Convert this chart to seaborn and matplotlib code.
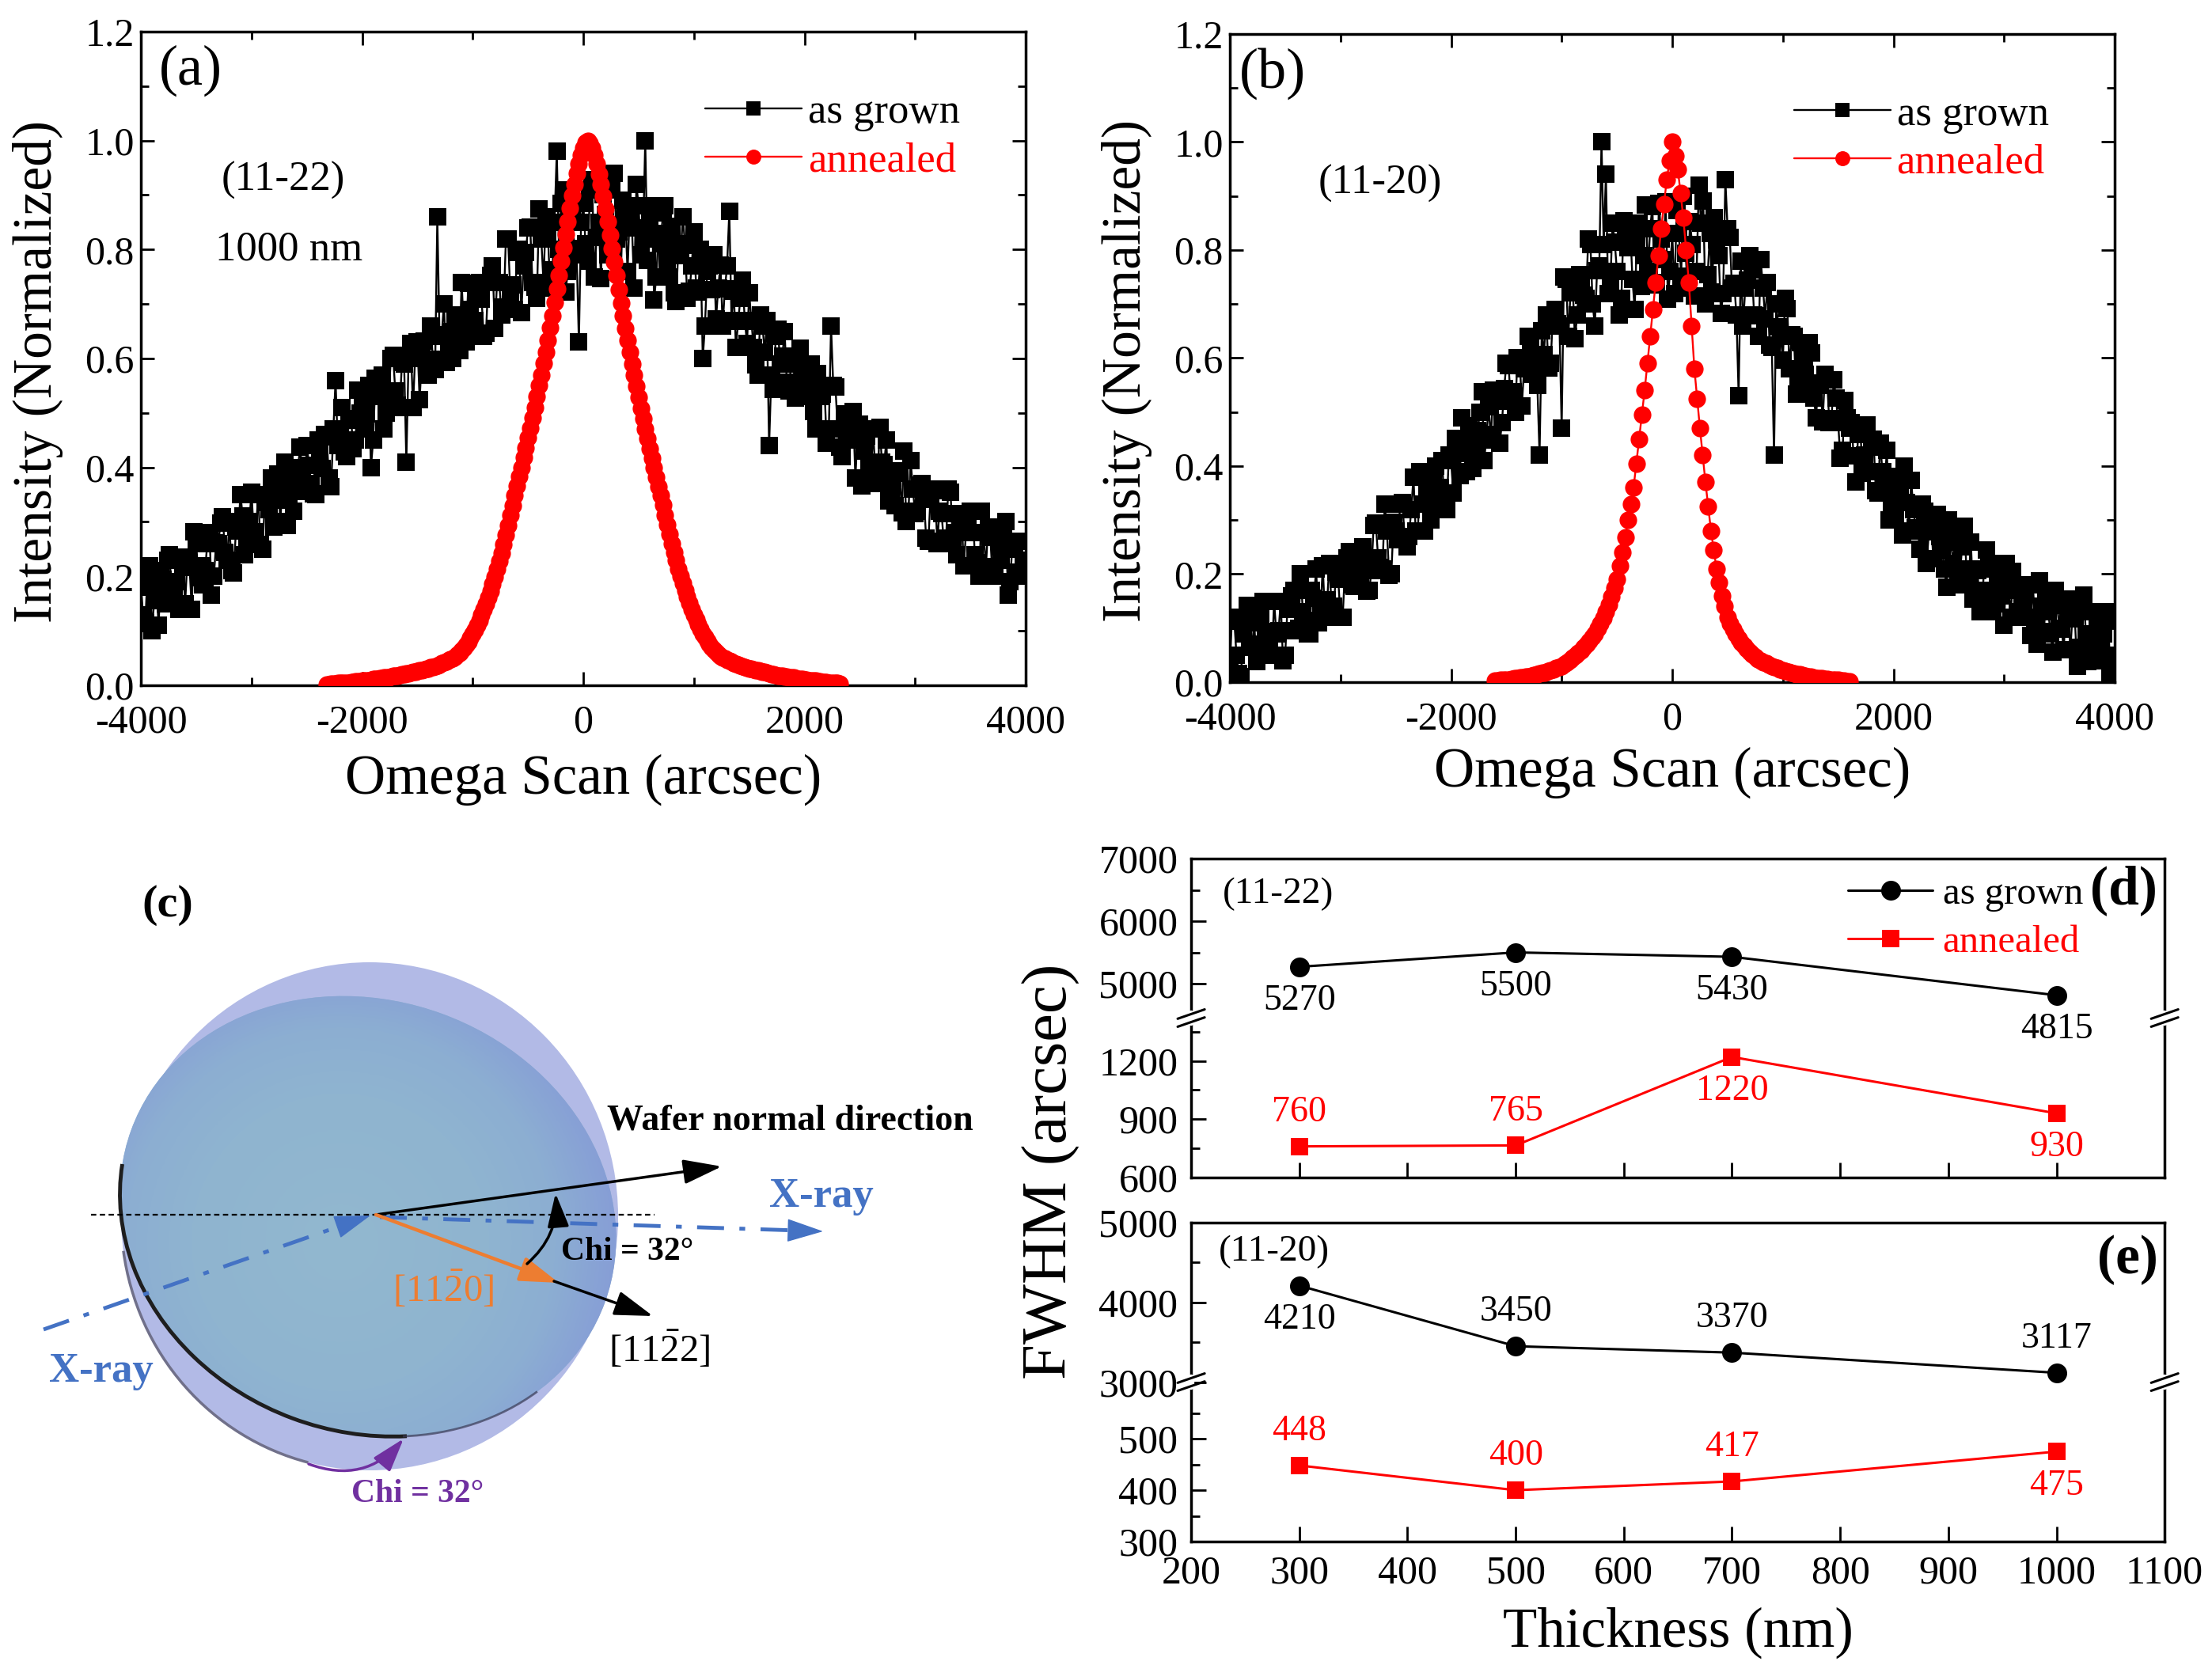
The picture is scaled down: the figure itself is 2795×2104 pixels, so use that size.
import numpy as np
import matplotlib
matplotlib.use("Agg")
import matplotlib.pyplot as plt
import seaborn as sns
from matplotlib.patches import Ellipse, Arc, FancyArrowPatch
from matplotlib.lines import Line2D
from matplotlib.ticker import MultipleLocator, FixedLocator, FormatStrFormatter
from matplotlib.colors import LinearSegmentedColormap

# ---------------------------------------------------------------- data
# (a) (11-22) 1000 nm omega scans, normalized intensity
scan_a_start, scan_a_end = -4000, 4000
grown_a = [  # points at -4000, -3960, ... 4000
    .18, .115, .22, .155, .11, .195, .23, .155, .19, .235,
    .15, .216, .282, .198, .184, .26, .166, .262, .298, .244,
    .30, .207, .284, .311, .258, .355, .282, .259, .336, .323,
    .29, .388, .366, .294, .392, .36, .438, .356, .404, .352,
    .45, .398, .456, .364, .56, .46, .428, .486, .434, .542,
    .53, .498, .40, .564, .542, .47, .528, .606, .514, .592,
    .41, .628, .606, .524, .632, .57, .598, .86, .644, .592,
    .65, .677, .614, .651, .738, .655, .722, .709, .646, .753,
    .655, .74, .695, .819, .735, .794, .684, .795, .841, .731,
    .874, .739, .828, .763, .98, .885, .722, .867, .802, .63,
    .885, .779, .928, .822, .746, .865, .909, .94, .832, .891,
    .76, .84, .92, .79, 1.0, .852, .708, .83, .868, .78,
    .842, .705, .789, .808, .723, .833, .722, .60, .76, .727,
    .672, .772, .728, .87, .724, .668, .744, .628, .668, .588,
    .68, .611, .44, .543, .654, .605, .556, .597, .528, .619,
    .59, .541, .502, .573, .534, .445, .66, .547, .438, .499,
    .45, .502, .464, .366, .458, .38, .392, .474, .406, .338,
    .38, .393, .316, .30, .412, .315, .368, .341, .264, .357,
    .26, .315, .27, .355, .28, .315, .22, .295, .32, .225,
    .32, .216, .272, .218, .254, .29, .166, .262, .208, .264,
    .22]
grown_a_mid = [  # points at -3980, -3940, ... 3980
    .13, .21, .10, .18, .21, .15, .24, .18, .14, .22,
    .23, .14, .26, .22, .21, .28, .20, .26, .31, .23,
    .21, .29, .35, .24, .30, .28, .35, .25, .35, .38,
    .34, .30, .41, .34, .32, .40, .38, .44, .37, .35,
    .43, .46, .38, .47, .44, .51, .42, .49, .45, .50,
    .47, .55, .45, .53, .57, .50, .60, .54, .51, .59,
    .60, .51, .63, .60, .59, .66, .58, .64, .70, .62,
    .60, .68, .74, .63, .69, .67, .74, .64, .74, .77,
    .74, .68, .82, .72, .69, .80, .77, .84, .74, .71,
    .82, .86, .73, .85, .80, .91, .76, .86, .79, .85,
    .81, .91, .75, .85, .90, .79, .92, .82, .76, .86,
    .87, .73, .88, .82, .78, .88, .75, .81, .88, .75,
    .72, .81, .86, .71, .77, .73, .80, .66, .77, .79,
    .73, .66, .77, .67, .62, .71, .67, .72, .62, .57,
    .66, .67, .57, .64, .59, .65, .54, .59, .53, .56,
    .53, .59, .47, .53, .55, .47, .55, .47, .42, .48,
    .49, .38, .48, .43, .40, .47, .37, .41, .45, .35,
    .33, .39, .43, .32, .36, .32, .37, .27, .35, .36,
    .32, .26, .36, .27, .24, .31, .28, .32, .24, .20,
    .28, .29, .20, .28, .23, .30, .19, .25, .20, .23]
ann_a_start, ann_a_end = -2320, 2320
ann_a = [
    .002, .002, .003, .003, .003, .004, .004, .004, .005, .005,
    .005, .006, .006, .007, .007, .007, .008, .008, .009, .009,
    .010, .011, .011, .012, .013, .013, .014, .015, .015, .016,
    .017, .017, .018, .019, .020, .021, .022, .022, .023, .024,
    .025, .026, .027, .028, .029, .030, .031, .033, .034, .035,
    .037, .038, .040, .042, .044, .046, .048, .050, .053, .056,
    .060, .064, .069, .074, .080, .087, .094, .102, .111, .119,
    .129, .139, .150, .161, .173, .186, .199, .213, .228, .243,
    .259, .276, .294, .312, .330, .349, .366, .383, .400, .418,
    .436, .454, .472, .491, .510, .530, .550, .570, .591, .612,
    .634, .656, .679, .703, .728, .753, .778, .803, .828, .852,
    .876, .899, .920, .940, .958, .974, .987, .996, 1.000,
    .995, .986, .973, .957, .939, .919, .898, .875, .851, .827,
    .802, .777, .752, .727, .702, .678, .655, .633, .611, .590,
    .569, .549, .529, .509, .490, .471, .453, .435, .417, .399,
    .382, .365, .348, .331, .313, .295, .277, .260, .244, .229,
    .214, .200, .187, .174, .162, .151, .140, .130, .120, .112,
    .103, .095, .088, .081, .075, .070, .065, .061, .057, .054,
    .051, .049, .047, .045, .043, .041, .039, .038, .036, .035,
    .034, .032, .031, .030, .029, .028, .027, .026, .025, .024,
    .023, .022, .021, .020, .019, .018, .018, .017, .016, .016,
    .015, .014, .014, .013, .012, .012, .011, .010, .010, .009,
    .009, .008, .008, .007, .007, .006, .006, .006, .005, .005,
    .005, .004, .004, .003]

# (b) (11-20) omega scans
scan_b_start, scan_b_end = -4000, 4000
grown_b = [  # points at -4000, -3960, ... 4000
    .04, .113, .016, .089, .142, .065, .038, .121, .094, .057,
    .15, .095, .04, .135, .16, .095, .20, .115, .09, .155,
    .11, .216, .152, .138, .204, .12, .206, .242, .178, .204,
    .25, .168, .206, .294, .212, .33, .198, .296, .264, .332,
    .25, .32, .28, .39, .28, .33, .38, .34, .41, .32,
    .41, .451, .382, .423, .474, .395, .466, .537, .458, .449,
    .53, .442, .544, .586, .538, .60, .512, .594, .626, .578,
    .42, .607, .582, .677, .664, .47, .746, .721, .636, .755,
    .716, .82, .70, .762, 1.0, .94, .738, .814, .68, .854,
    .805, .746, .822, .733, .884, .84, .736, .887, .783, .709,
    .83, .873, .751, .794, .852, .715, .92, .891, .754, .722,
    .819, .682, .93, .824, .739, .53, .66, .744, .763, .678,
    .782, .673, .624, .42, .658, .597, .692, .643, .534, .629,
    .57, .628, .526, .554, .482, .56, .488, .526, .414, .522,
    .47, .419, .458, .387, .476, .435, .354, .443, .362, .301,
    .32, .381, .272, .333, .374, .285, .246, .317, .278, .229,
    .31, .243, .176, .259, .272, .195, .288, .191, .154, .207,
    .15, .245, .17, .145, .20, .105, .18, .205, .13, .145,
    .18, .086, .112, .188, .094, .13, .056, .142, .098, .154,
    .06, .117, .064, .161, .038, .075, .112, .059, .116, .013,
    .05]
grown_b_mid = [  # points at -3980, -3940, ... 3980
    .12, .05, .01, .12, .07, .11, .05, .15, .07, .05,
    .09, .15, .05, .14, .17, .10, .13, .09, .17, .21,
    .13, .12, .22, .14, .19, .12, .23, .18, .23, .20,
    .23, .17, .29, .23, .21, .28, .20, .28, .33, .27,
    .27, .38, .28, .33, .36, .30, .40, .36, .32, .42,
    .35, .43, .49, .39, .45, .43, .50, .41, .51, .54,
    .52, .48, .59, .52, .50, .60, .58, .64, .57, .55,
    .65, .68, .59, .69, .66, .75, .64, .73, .68, .74,
    .71, .81, .66, .77, .81, .72, .85, .76, .71, .82,
    .84, .69, .85, .79, .76, .88, .74, .82, .89, .76,
    .72, .83, .90, .73, .81, .76, .85, .70, .83, .86,
    .79, .72, .84, .73, .68, .78, .73, .79, .68, .64,
    .73, .74, .62, .70, .64, .71, .58, .64, .56, .60,
    .55, .61, .49, .55, .57, .48, .56, .48, .43, .49,
    .48, .37, .47, .42, .39, .45, .35, .39, .43, .33,
    .30, .36, .40, .28, .32, .28, .33, .22, .30, .31,
    .27, .21, .30, .22, .18, .25, .21, .26, .17, .13,
    .21, .22, .13, .20, .16, .22, .12, .17, .12, .15,
    .12, .18, .07, .14, .16, .09, .17, .10, .06, .12,
    .13, .03, .13, .09, .07, .13, .04, .09, .13, .04]
ann_b_start, ann_b_end = -1600, 1600
ann_b = [
    .003, .003, .004, .004, .005, .005, .006, .007, .008, .009,
    .009, .010, .011, .012, .013, .014, .016, .017, .018, .020,
    .022, .024, .026, .028, .030, .033, .037, .041, .045, .050,
    .054, .059, .065, .070, .076, .083, .090, .099, .108, .118,
    .130, .143, .158, .174, .190, .215, .240, .268, .300, .330,
    .360, .405, .450, .495, .540, .590, .640, .690, .740, .790,
    .840, .885, .930, .965,
    1.000,
    .975, .950, .905, .860, .800, .740, .660, .580, .525, .470,
    .420, .370, .325, .280, .245, .210, .185, .160, .140, .120,
    .108, .098, .089, .080, .073, .067, .061, .055, .051, .047,
    .043, .040, .037, .035, .032, .030, .028, .026, .024, .022,
    .021, .019, .018, .016, .015, .014, .013, .012, .011, .010,
    .009, .008, .008, .007, .006, .006, .005, .005, .004, .004,
    .003, .003, .002, .002]

# (d)/(e) FWHM vs thickness
thickness = [300, 500, 700, 1000]
thickness_ticks = [200, 300, 400, 500, 600, 700, 800, 900, 1000, 1100]
fwhm_1122_grown = [5270, 5500, 5430, 4815]
fwhm_1122_ann = [760, 765, 1220, 930]
fwhm_1120_grown = [4210, 3450, 3370, 3117]
fwhm_1120_ann = [448, 400, 417, 475]
side_1122_grown = [-1, -1, -1, -1]      # value label below (-1) / above (+1)
side_1122_ann = [1, 1, -1, -1]
side_1120_grown = [-1, 1, 1, 1]
side_1120_ann = [1, 1, 1, -1]

# ---------------------------------------------------------------- style
sns.set_theme(style="ticks")
plt.rcParams["font.family"] = ["Liberation Serif", "DejaVu Serif"]
plt.rcParams["mathtext.fontset"] = "custom"
plt.rcParams["mathtext.rm"] = "Liberation Serif"
plt.rcParams["mathtext.it"] = "Liberation Serif:italic"
plt.rcParams["mathtext.bf"] = "Liberation Serif:bold"
plt.rcParams["axes.unicode_minus"] = False
for k in ["text.color", "axes.labelcolor", "xtick.color", "ytick.color", "axes.edgecolor"]:
    plt.rcParams[k] = "black"

fig = plt.figure(figsize=(27.95, 21.04), dpi=100)
fig.patch.set_facecolor("white")

SP_LW = 2.5


def style_spines(ax):
    for s in ax.spines.values():
        s.set_linewidth(SP_LW)
        s.set_color("black")


def interleave(first, second):
    out = np.empty(len(first) + len(second))
    out[0::2] = first
    out[1::2] = second
    return out


# ---------------------------------------------------------------- (a),(b)
def scan_panel(ax, xg, yg, xa, ya):
    sns.lineplot(x=xg, y=yg, ax=ax, color="black", marker="s", markersize=15.5,
                 markeredgewidth=0, linewidth=1.7, label="as grown", legend=False,
                 sort=False, estimator=None, zorder=2)
    sns.lineplot(x=xa, y=ya, ax=ax, color="red", marker="o", markersize=16,
                 markeredgewidth=0, linewidth=1.7, label="annealed", legend=False,
                 sort=False, estimator=None, zorder=3)
    ax.set_xlim(-4000, 4000)
    ax.set_ylim(0, 1.2)
    ax.xaxis.set_major_locator(MultipleLocator(2000))
    ax.xaxis.set_minor_locator(MultipleLocator(1000))
    ax.yaxis.set_major_locator(MultipleLocator(0.2))
    ax.yaxis.set_minor_locator(MultipleLocator(0.1))
    ax.yaxis.set_major_formatter(FormatStrFormatter("%.1f"))
    ax.tick_params(which="both", direction="in", top=True, right=True, width=2)
    ax.tick_params(which="major", length=12, labelsize=36)
    ax.tick_params(which="minor", length=7)
    ax.tick_params(axis="x", pad=17)
    ax.tick_params(axis="y", pad=6)
    style_spines(ax)
    ax.set_xlabel("Omega Scan (arcsec)", fontsize=51)
    ax.set_ylabel("Intensity (Normalized)", fontsize=50)
    ax.yaxis.set_label_coords(-0.088, 0.48)
    ax.legend(loc="upper left", bbox_to_anchor=(0.638, 0.905), frameon=False,
              fontsize=38, handlelength=2.3, handletextpad=0.15, labelspacing=0.25,
              borderpad=0, borderaxespad=0, labelcolor="linecolor", markerscale=0.85)


ya = interleave(grown_a, grown_a_mid)
ax_a = fig.add_axes([0.0637, 0.5884, 0.4, 0.3926])
scan_panel(ax_a, np.linspace(scan_a_start, scan_a_end, len(ya)), ya,
           np.linspace(ann_a_start, ann_a_end, len(ann_a)), ann_a)
ax_a.xaxis.set_label_coords(0.5, -0.105)
ax_a.text(0.056, 0.94, "(a)", transform=ax_a.transAxes, ha="center", va="center", fontsize=52)
ax_a.text(0.161, 0.772, "(11-22)", transform=ax_a.transAxes, ha="center", va="center", fontsize=38)
ax_a.text(0.167, 0.666, "1000 nm", transform=ax_a.transAxes, ha="center", va="center", fontsize=38)

yb = interleave(grown_b, grown_b_mid)
ax_b = fig.add_axes([0.556, 0.5903, 0.4, 0.3893])
scan_panel(ax_b, np.linspace(scan_b_start, scan_b_end, len(yb)), yb,
           np.linspace(ann_b_start, ann_b_end, len(ann_b)), ann_b)
ax_b.xaxis.set_label_coords(0.5, -0.099)
ax_b.text(0.048, 0.939, "(b)", transform=ax_b.transAxes, ha="center", va="center", fontsize=52)
ax_b.text(0.17, 0.769, "(11-20)", transform=ax_b.transAxes, ha="center", va="center", fontsize=38)


# ---------------------------------------------------------------- (d),(e)
def fwhm_pair(ax_top, ax_bot, grown, ann, side_g, side_a, top_lim, top_major, top_minor,
              bot_lim, bot_major, bot_minor, show_xlabels):
    sns.lineplot(x=thickness, y=grown, ax=ax_top, color="black", marker="o", markersize=18,
                 markeredgewidth=0, linewidth=2.2, label="as grown", legend=False,
                 sort=False, estimator=None, clip_on=False)
    sns.lineplot(x=thickness, y=ann, ax=ax_bot, color="red", marker="s", markersize=16,
                 markeredgewidth=0, linewidth=2.2, label="annealed", legend=False,
                 sort=False, estimator=None, clip_on=False)
    for x, v, s in zip(thickness, grown, side_g):
        ax_top.annotate(str(v), (x, v), xytext=(0, 31 * s), textcoords="offset points",
                        ha="center", va="center", fontsize=33, color="black")
    for x, v, s in zip(thickness, ann, side_a):
        ax_bot.annotate(str(v), (x, v), xytext=(0, 31 * s), textcoords="offset points",
                        ha="center", va="center", fontsize=33, color="red")
    for ax, lim, maj, mnr in ((ax_top, top_lim, top_major, top_minor),
                              (ax_bot, bot_lim, bot_major, bot_minor)):
        ax.set_xlim(200, 1100)
        ax.set_ylim(*lim)
        ax.xaxis.set_major_locator(FixedLocator(thickness_ticks))
        ax.yaxis.set_major_locator(FixedLocator(maj))
        ax.yaxis.set_minor_locator(FixedLocator(mnr))
        ax.yaxis.set_major_formatter(FormatStrFormatter("%d"))
        ax.tick_params(axis="y", which="both", direction="in", left=True, right=False,
                       width=2, labelsize=36, pad=12)
        ax.tick_params(axis="y", which="major", length=14)
        ax.tick_params(axis="y", which="minor", length=8)
        style_spines(ax)
        ax.set_xlabel("")
        ax.set_ylabel("")
    ax_top.tick_params(axis="x", which="both", bottom=False, top=False, labelbottom=False)
    ax_bot.tick_params(axis="x", which="both", direction="in", bottom=True, top=False,
                       length=14, width=2, labelsize=36, pad=12, labelbottom=show_xlabels)
    ax_top.spines["bottom"].set_visible(False)
    ax_bot.spines["top"].set_visible(False)


L, W = 0.5385, 0.4401
ax_d_bot = fig.add_axes([L, 0.2928, W, 0.09575])
ax_d_top = fig.add_axes([L, 0.38855, W, 0.09575])
ax_e_bot = fig.add_axes([L, 0.0741, W, 0.0958])
ax_e_top = fig.add_axes([L, 0.1699, W, 0.0958])

fwhm_pair(ax_d_top, ax_d_bot, fwhm_1122_grown, fwhm_1122_ann, side_1122_grown, side_1122_ann,
          (4450, 7000), [5000, 6000, 7000], [5500, 6500],
          (600, 1420), [600, 900, 1200], [750, 1050, 1350], False)
fwhm_pair(ax_e_top, ax_e_bot, fwhm_1120_grown, fwhm_1120_ann, side_1120_grown, side_1120_ann,
          (3000, 5000), [3000, 4000, 5000], [3500, 4500],
          (300, 610), [300, 400, 500], [350, 450, 550], True)

ax_d_top.legend([ax_d_top.get_lines()[0], ax_d_bot.get_lines()[0]], ["as grown", "annealed"],
                loc="upper left", bbox_to_anchor=(0.675, 0.885), frameon=False, fontsize=35,
                handlelength=2.2, handletextpad=0.25, labelspacing=0.34, borderpad=0,
                borderaxespad=0, labelcolor="linecolor")
ax_d_top.text(0.089, 0.78, "(11-22)", transform=ax_d_top.transAxes, ha="center", va="center", fontsize=34)
ax_d_top.text(0.958, 0.80, "(d)", transform=ax_d_top.transAxes, ha="center", va="center",
              fontsize=50, fontweight="bold")
ax_e_top.text(0.085, 0.816, "(11-20)", transform=ax_e_top.transAxes, ha="center", va="center", fontsize=34)
ax_e_top.text(0.962, 0.767, "(e)", transform=ax_e_top.transAxes, ha="center", va="center",
              fontsize=50, fontweight="bold")
ax_e_bot.set_xlabel("Thickness (nm)", fontsize=51)
ax_e_bot.xaxis.set_label_coords(0.5, -0.407)
fig.text(1328 / 2795, 1 - 1480 / 2104, "FWHM (arcsec)", rotation=90, ha="center", va="center",
         fontsize=58)

# axis-break marks
for ybrk in (0.38855, 0.1699):
    for xs in (L, L + W):
        fig.add_artist(Line2D([xs, xs], [ybrk - 0.0024, ybrk + 0.0024], transform=fig.transFigure,
                              color="white", lw=6, zorder=10))
        for off in (-0.0024, 0.0024):
            fig.add_artist(Line2D([xs - 0.0061, xs + 0.0061],
                                  [ybrk + off - 0.0028, ybrk + off + 0.0028],
                                  transform=fig.transFigure, color="black", lw=2.2, zorder=11))

# ---------------------------------------------------------------- (c) schematic
axc = fig.add_axes([0, 0, 1330 / 2795, 1054 / 2104])
axc.axis("off")
outer = Ellipse((467, 1537), 628, 642, angle=0, facecolor="#B2BAE6", edgecolor="none", zorder=1)
axc.add_patch(outer)
axc.add_patch(Arc((467, 1537), 628, 642, angle=0, theta1=104, theta2=172,
                  color="#70708A", lw=2.5, zorder=1.5))
inner = Ellipse((465, 1537), 637, 545, angle=20, facecolor="#8EB3D0", edgecolor="none", zorder=2)
axc.add_patch(inner)
g = np.linspace(-1, 1, 300)
GX, GY = np.meshgrid(g, g)
disk_cmap = LinearSegmentedColormap.from_list(
    "disk", [(0, "#92B8CF"), (0.45, "#8FB4D0"), (0.65, "#8CAED2"), (0.82, "#879FD6"), (1, "#7E8ED6")])
img = axc.imshow(np.hypot(GX, GY), extent=(10, 850, 1990, 1150), cmap=disk_cmap, vmin=0, vmax=1,
                 zorder=2.1, aspect="auto", interpolation="bilinear")
img.set_clip_path(inner)
axc.add_patch(Arc((465, 1537), 637, 545, angle=20, theta1=60, theta2=172,
                  color="#1E1E1E", lw=3.5, zorder=3))
axc.add_patch(Arc((465, 1537), 637, 545, angle=20, theta1=26, theta2=61,
                  color="#3A3A55", lw=2, alpha=0.7, zorder=3))

axc.plot([115, 827], [1535, 1535], color="black", lw=1.6, ls=(0, (3, 2)), zorder=4)

HEAD = "-|>,head_length=1.0,head_width=0.32"


def arrow(p0, p1, color, lw, conn="arc3", ms=30):
    axc.add_patch(FancyArrowPatch(p0, p1, arrowstyle=HEAD, mutation_scale=ms, color=color, lw=lw,
                                  connectionstyle=conn, shrinkA=0, shrinkB=0, zorder=6))


xray = "#4472C4"
axc.plot([55, 445], [1680, 1544], color=xray, lw=3.5, ls=(0, (7, 4, 1.5, 4)), zorder=5)
arrow((436, 1547), (468, 1536), xray, 1)
axc.plot([480, 1010], [1538, 1555], color=xray, lw=3.5, ls=(0, (7, 4, 1.5, 4)), zorder=5)
arrow((1005, 1555), (1040, 1556), xray, 1)

arrow((475, 1535), (912, 1474), "black", 2.5)
arrow((475, 1535), (706, 1621), "#ED7D31", 3.2)
arrow((700, 1619), (825, 1663), "black", 2.5)
arrow((666, 1597), (702, 1508), "black", 2.5, conn="arc3,rad=0.25", ms=26)
arrow((390, 1850), (510, 1818), "#7030A0", 2.5, conn="arc3,rad=0.35", ms=26)

axc.text(212, 1144, "(c)", fontsize=42, fontweight="bold", ha="center", va="center")
axc.text(767, 1417, "Wafer normal direction", fontsize=33, fontweight="bold", ha="left", va="center")
axc.text(1038, 1512, "X-ray", fontsize=38, fontweight="bold", color=xray, ha="center", va="center")
axc.text(128, 1733, "X-ray", fontsize=38, fontweight="bold", color=xray, ha="center", va="center")
axc.text(793, 1582, "Chi = 32°", fontsize=30, fontweight="bold", ha="center", va="center", zorder=7)
axc.text(560, 1629, r"$[11\bar{2}0]$", fontsize=35, color="#ED7D31", ha="center", va="center", zorder=7)
axc.text(833, 1705, r"$[11\bar{2}2]$", fontsize=35, color="black", ha="center", va="center", zorder=7)
axc.text(528, 1888, "Chi = 32°", fontsize=30, fontweight="bold", color="#7030A0", ha="center", va="center")
axc.set_xlim(0, 1330)
axc.set_ylim(2104, 1050)

fig.savefig("out.png", dpi=100, facecolor="white")
